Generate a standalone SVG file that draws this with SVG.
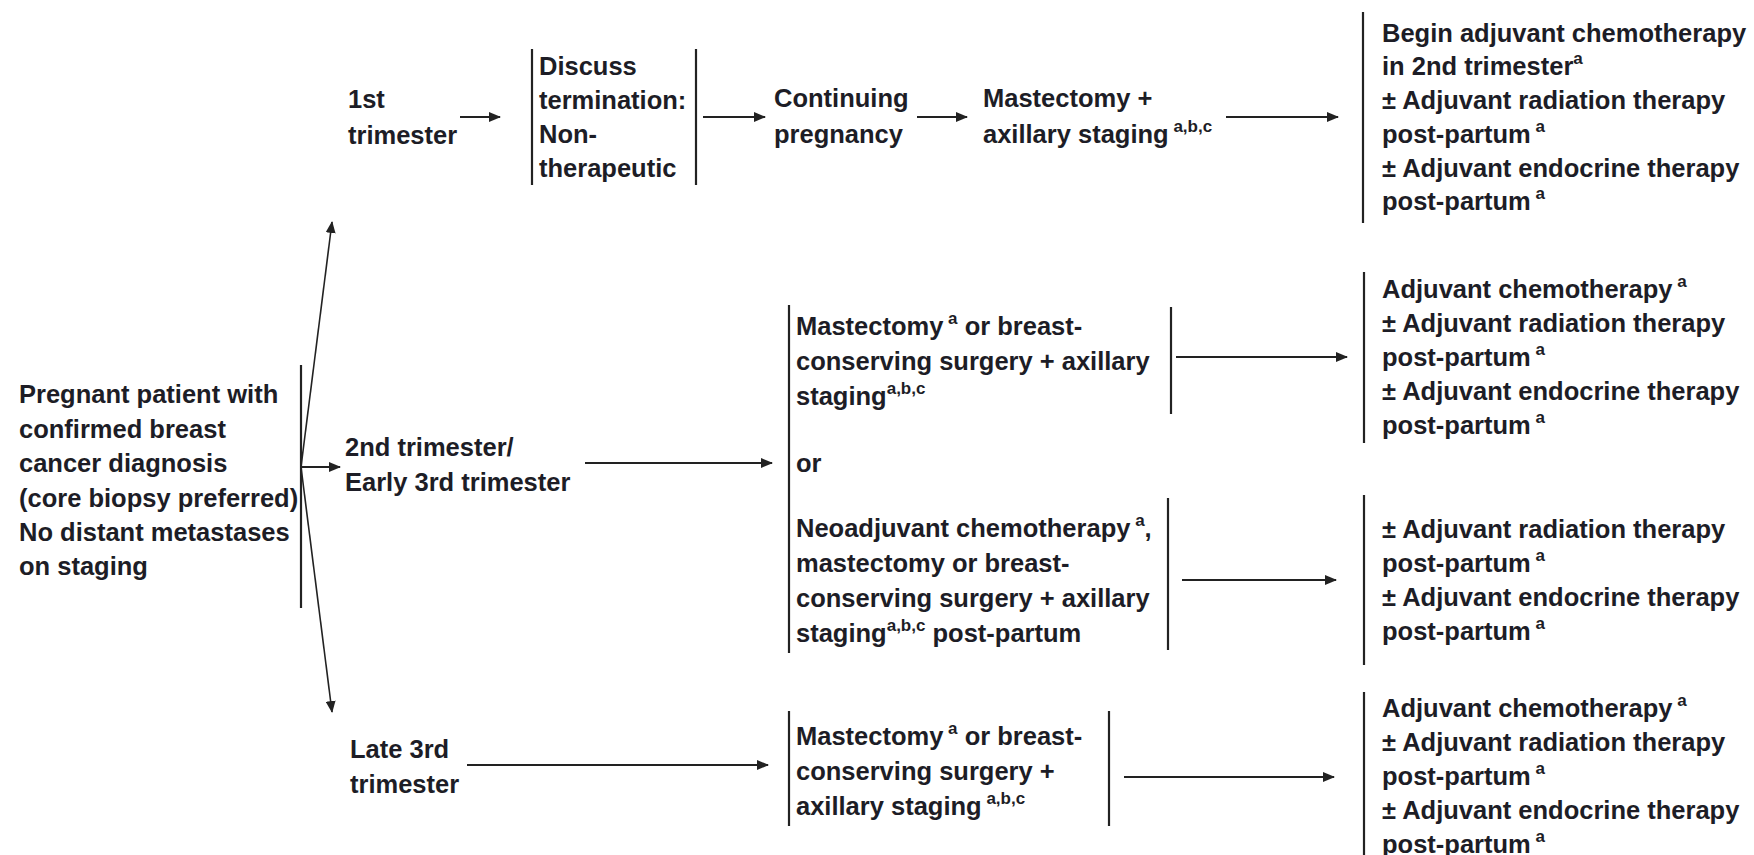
<svg xmlns="http://www.w3.org/2000/svg" width="1754" height="855" viewBox="0 0 1754 855">
<defs>
<style>
text{font-family:"Liberation Sans",Arial,Helvetica,sans-serif;font-weight:bold;font-size:25.5px;fill:#1d1d26}
.sup{font-size:17px}
.bar{stroke:#222;stroke-width:2.2;fill:none}
.arr{stroke:#222;stroke-width:2.2;fill:none;marker-end:url(#ah)}
.diag{stroke:#222;stroke-width:1.6;fill:none;marker-end:url(#ah)}
</style>
<marker id="ah" viewBox="0 0 12 10" refX="11" refY="5" markerWidth="12" markerHeight="10" markerUnits="userSpaceOnUse" orient="auto">
<path d="M0,0 L12,5 L0,10 z" fill="#222"/>
</marker>
</defs>
<rect width="1754" height="855" fill="#fff"/>

<g id="start">
<line class="bar" x1="301" y1="365" x2="301" y2="608"/>
<text x="19" y="403">Pregnant patient with</text>
<text x="19" y="438">confirmed breast</text>
<text x="19" y="472">cancer diagnosis</text>
<text x="19" y="507">(core biopsy preferred)</text>
<text x="19" y="541">No distant metastases</text>
<text x="19" y="575">on staging</text>
</g>

<g id="first-trimester">
<text x="348" y="108">1st</text>
<text x="348" y="144">trimester</text>
</g>

<g id="discuss-termination">
<line class="bar" x1="532" y1="49" x2="532" y2="185"/>
<line class="bar" x1="696" y1="49" x2="696" y2="185"/>
<text x="539" y="75">Discuss</text>
<text x="539" y="109">termination:</text>
<text x="539" y="143">Non-</text>
<text x="539" y="177">therapeutic</text>
</g>

<g id="continuing">
<text x="774" y="107">Continuing</text>
<text x="774" y="143">pregnancy</text>
</g>

<g id="mastectomy-1">
<text x="983" y="107">Mastectomy +</text>
<text x="983" y="143">axillary staging<tspan class="sup" dy="-11"> a,b,c</tspan></text>
</g>

<g id="outcome-1">
<line class="bar" x1="1363" y1="12" x2="1363" y2="223"/>
<text x="1382" y="42">Begin adjuvant chemotherapy</text>
<text x="1382" y="75">in 2nd trimester<tspan class="sup" dy="-11">a</tspan></text>
<text x="1382" y="109">± Adjuvant radiation therapy</text>
<text x="1382" y="143">post-partum<tspan class="sup" dy="-11"> a</tspan></text>
<text x="1382" y="177">± Adjuvant endocrine therapy</text>
<text x="1382" y="210">post-partum<tspan class="sup" dy="-11"> a</tspan></text>
</g>

<g id="second-trimester">
<text x="345" y="456">2nd trimester/</text>
<text x="345" y="491">Early 3rd trimester</text>
</g>

<g id="surgery-options">
<line class="bar" x1="789" y1="305" x2="789" y2="653"/>
<text x="796" y="335">Mastectomy<tspan class="sup" dy="-11"> a</tspan><tspan dy="11"> or breast-</tspan></text>
<text x="796" y="370">conserving surgery + axillary</text>
<text x="796" y="405">staging<tspan class="sup" dy="-11">a,b,c</tspan></text>
<text x="796" y="472">or</text>
<text x="796" y="537">Neoadjuvant chemotherapy<tspan class="sup" dy="-11"> a</tspan><tspan dy="11">,</tspan></text>
<text x="796" y="572">mastectomy or breast-</text>
<text x="796" y="607">conserving surgery + axillary</text>
<text x="796" y="642">staging<tspan class="sup" dy="-11">a,b,c</tspan><tspan dy="11"> post-partum</tspan></text>
<line class="bar" x1="1171" y1="307" x2="1171" y2="414"/>
<line class="bar" x1="1168" y1="498" x2="1168" y2="650"/>
</g>

<g id="outcome-2">
<line class="bar" x1="1364" y1="272" x2="1364" y2="443"/>
<text x="1382" y="298">Adjuvant chemotherapy<tspan class="sup" dy="-11"> a</tspan></text>
<text x="1382" y="332">± Adjuvant radiation therapy</text>
<text x="1382" y="366">post-partum<tspan class="sup" dy="-11"> a</tspan></text>
<text x="1382" y="400">± Adjuvant endocrine therapy</text>
<text x="1382" y="434">post-partum<tspan class="sup" dy="-11"> a</tspan></text>
</g>

<g id="outcome-3">
<line class="bar" x1="1364" y1="495" x2="1364" y2="665"/>
<text x="1382" y="538">± Adjuvant radiation therapy</text>
<text x="1382" y="572">post-partum<tspan class="sup" dy="-11"> a</tspan></text>
<text x="1382" y="606">± Adjuvant endocrine therapy</text>
<text x="1382" y="640">post-partum<tspan class="sup" dy="-11"> a</tspan></text>
</g>

<g id="late-third-trimester">
<text x="350" y="758">Late 3rd</text>
<text x="350" y="793">trimester</text>
</g>

<g id="surgery-late">
<line class="bar" x1="789" y1="711" x2="789" y2="826"/>
<line class="bar" x1="1109" y1="711" x2="1109" y2="826"/>
<text x="796" y="745">Mastectomy<tspan class="sup" dy="-11"> a</tspan><tspan dy="11"> or breast-</tspan></text>
<text x="796" y="780">conserving surgery +</text>
<text x="796" y="815">axillary staging<tspan class="sup" dy="-11"> a,b,c</tspan></text>
</g>

<g id="outcome-4">
<line class="bar" x1="1364" y1="692" x2="1364" y2="855"/>
<text x="1382" y="717">Adjuvant chemotherapy<tspan class="sup" dy="-11"> a</tspan></text>
<text x="1382" y="751">± Adjuvant radiation therapy</text>
<text x="1382" y="785">post-partum<tspan class="sup" dy="-11"> a</tspan></text>
<text x="1382" y="819">± Adjuvant endocrine therapy</text>
<text x="1382" y="853">post-partum<tspan class="sup" dy="-11"> a</tspan></text>
</g>

<g id="connectors">
<line class="diag" x1="301" y1="467" x2="332" y2="222"/>
<line class="arr" x1="301" y1="467" x2="340" y2="467"/>
<line class="diag" x1="301" y1="467" x2="332" y2="712"/>
<line class="arr" x1="460" y1="117" x2="500" y2="117"/>
<line class="arr" x1="703" y1="117" x2="765" y2="117"/>
<line class="arr" x1="917" y1="117" x2="967" y2="117"/>
<line class="arr" x1="1226" y1="117" x2="1338" y2="117"/>
<line class="arr" x1="585" y1="463" x2="772" y2="463"/>
<line class="arr" x1="1176" y1="357" x2="1347" y2="357"/>
<line class="arr" x1="1182" y1="580" x2="1336" y2="580"/>
<line class="arr" x1="467" y1="765" x2="768" y2="765"/>
<line class="arr" x1="1124" y1="777" x2="1334" y2="777"/>
</g>
</svg>
